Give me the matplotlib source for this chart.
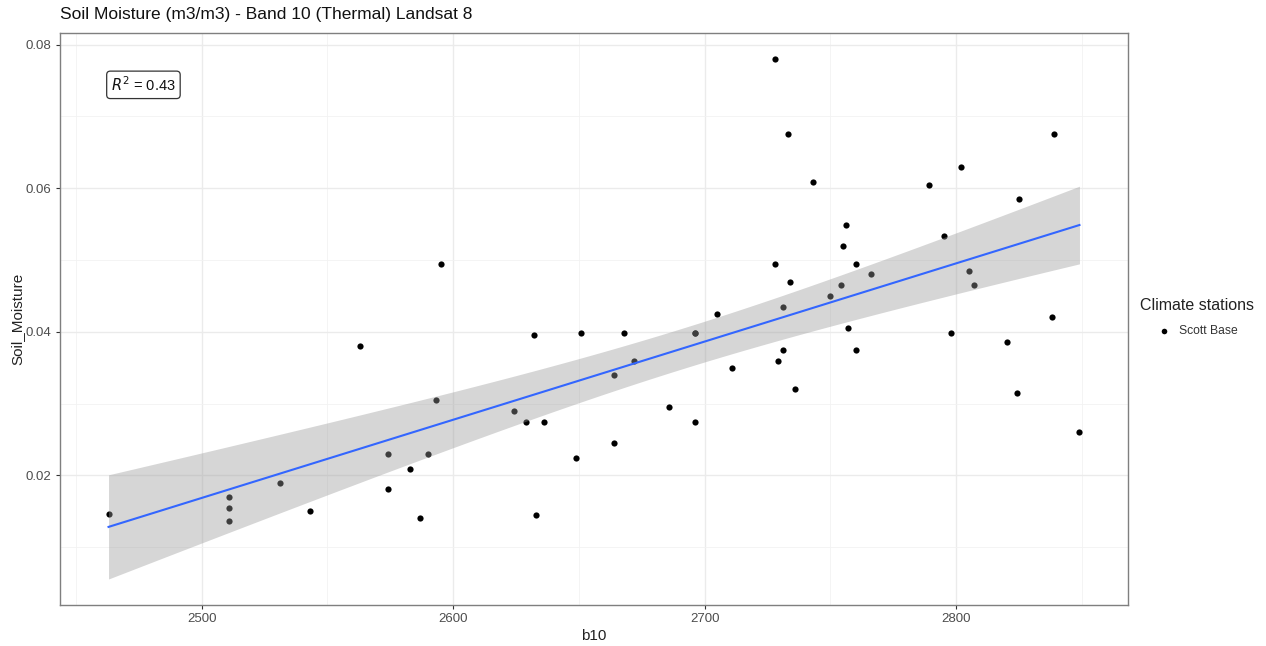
import matplotlib
matplotlib.use("Agg")
import matplotlib.pyplot as plt
import numpy as np

plt.rcParams["font.family"] = ["Liberation Sans", "DejaVu Sans"]

# band 10 brightness (b10) and measured soil moisture at Scott Base
b10 = [
    2463, 2511, 2511, 2511, 2531, 2543, 2563, 2574, 2574, 2583,
    2587, 2590, 2593, 2595, 2624, 2629, 2632, 2633, 2636, 2649,
    2651, 2664, 2664, 2668, 2672, 2686, 2696, 2696, 2696, 2705,
    2711, 2728, 2728, 2729, 2731, 2731, 2733, 2734, 2736, 2743,
    2750, 2754, 2755, 2756, 2757, 2760, 2760, 2766, 2789, 2795,
    2798, 2802, 2805, 2807, 2820, 2824, 2825, 2838, 2839, 2849,
]
soil_moisture = [
    0.0146, 0.0170, 0.0155, 0.0136, 0.0190, 0.0151, 0.0380, 0.0230, 0.0181, 0.0209,
    0.0140, 0.0230, 0.0305, 0.0495, 0.0290, 0.0275, 0.0395, 0.0145, 0.0275, 0.0224,
    0.0399, 0.0340, 0.0245, 0.0399, 0.0360, 0.0295, 0.0399, 0.0275, 0.0399, 0.0425,
    0.0350, 0.0780, 0.0495, 0.0360, 0.0435, 0.0375, 0.0675, 0.0470, 0.0320, 0.0609,
    0.0450, 0.0465, 0.0519, 0.0549, 0.0405, 0.0495, 0.0375, 0.0480, 0.0604, 0.0534,
    0.0399, 0.0630, 0.0485, 0.0465, 0.0386, 0.0315, 0.0585, 0.0420, 0.0675, 0.0260,
]
r2_label = "0.43"
station = "Scott Base"

x = np.asarray(b10, dtype=float)
y = np.asarray(soil_moisture, dtype=float)

# lm fit with 95% confidence band (like geom_smooth(method = "lm"))
n = len(x)
slope, intercept = np.polyfit(x, y, 1)
resid = y - (slope * x + intercept)
s = np.sqrt(np.sum(resid ** 2) / (n - 2))
t_crit = 2.002  # t(0.975, df = 58)
xs = np.linspace(x.min(), x.max(), 80)
ys = slope * xs + intercept
se = s * np.sqrt(1 / n + (xs - x.mean()) ** 2 / np.sum((x - x.mean()) ** 2))
lo = ys - t_crit * se
hi = ys + t_crit * se

fig = plt.figure(figsize=(12.66, 6.46), dpi=100)
ax = fig.add_axes([60 / 1266, 41 / 646, 1068 / 1266, 572 / 646])

ax.scatter(x, y, s=20, color="black", linewidths=0, zorder=2, label=station)
ax.fill_between(xs, lo, hi, color="#999999", alpha=0.4, linewidth=0, zorder=3)
ax.plot(xs, ys, color="#3366FF", linewidth=1.5, zorder=4)

# ggplot-style 5% expansion over everything drawn
xpad = (x.max() - x.min()) * 0.05
ymin = min(y.min(), lo.min())
ymax = max(y.max(), hi.max())
ypad = (ymax - ymin) * 0.05
ax.set_xlim(x.min() - xpad, x.max() + xpad)
ax.set_ylim(ymin - ypad, ymax + ypad)

ax.set_xticks([2500, 2600, 2700, 2800])
ax.set_xticks([2450, 2550, 2650, 2750, 2850], minor=True)
ax.set_yticks([0.02, 0.04, 0.06, 0.08])
ax.set_yticklabels(["0.02", "0.04", "0.06", "0.08"])
ax.set_yticks([0.01, 0.03, 0.05, 0.07], minor=True)
ax.grid(which="major", color="#EBEBEB", linewidth=1.0, zorder=0)
ax.grid(which="minor", color="#F2F2F2", linewidth=0.6, zorder=0)
ax.set_axisbelow(True)
ax.tick_params(which="major", length=3, width=0.8, color="#333333",
               labelsize=9.5, labelcolor="#4D4D4D", pad=3)
ax.tick_params(which="minor", length=0)
for sp in ax.spines.values():
    sp.set_color("#7F7F7F")
    sp.set_linewidth(1.0)

ax.set_xlabel("b10", fontsize=11, color="#222222", labelpad=3)
ax.set_ylabel("Soil_Moisture", fontsize=11, color="#222222", labelpad=1)
fig.text(60 / 1266, 1 - 14 / 646, "Soil Moisture (m3/m3) - Band 10 (Thermal) Landsat 8",
         fontsize=12.5, color="#111111", ha="left", va="center")

ax.text(2464, 0.0744, r"$R^2$ = " + r2_label, fontsize=10.5, color="#111111",
        ha="left", va="center",
        bbox=dict(boxstyle="round,pad=0.3,rounding_size=0.25", facecolor="white",
                  edgecolor="#333333", linewidth=0.9))

# legend: title placed separately, single key below it
fig.text(1140 / 1266, 1 - 306 / 646, "Climate stations", fontsize=11.5,
         color="#222222", ha="left", va="center")
leg = ax.legend(loc="center left", bbox_to_anchor=(1158 / 1266, 1 - 331 / 646),
                bbox_transform=fig.transFigure, frameon=False,
                fontsize=8.7, markerscale=0.9, handlelength=1.0,
                handletextpad=0.75, borderaxespad=0, borderpad=0)
for t in leg.get_texts():
    t.set_color("#333333")

fig.savefig("out.png", dpi=100)
